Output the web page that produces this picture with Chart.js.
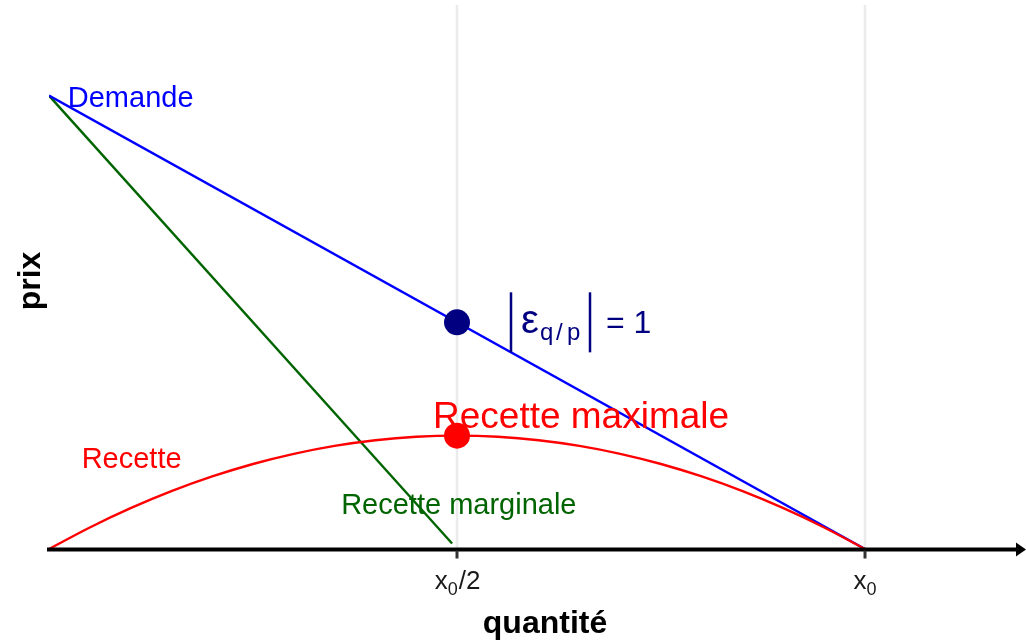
<!DOCTYPE html>
<html>
<head>
<meta charset="utf-8">
<script src="https://cdn.jsdelivr.net/npm/chart.js@4/dist/chart.umd.min.js"></script>
<style>
html,body{margin:0;padding:0;background:#fff;}
#wrap{width:1026px;height:641px;}
</style>
</head>
<body>
<div id="wrap"><canvas id="c" width="1026" height="641"></canvas></div>
<script>
// quantities expressed as fraction of x0, prices as fraction of the demand intercept
const demandeQ = [0, 1];
const demandeP = [1, 0];
const margQ = [0, 0.494];
const margP = [1, 0.012];
const recetteQ = [0, 0.05, 0.1, 0.15, 0.2, 0.25, 0.3, 0.35, 0.4, 0.45, 0.5, 0.55, 0.6, 0.65, 0.7, 0.75, 0.8, 0.85, 0.9, 0.95, 1];
const recetteR = [0, 0.0475, 0.09, 0.1275, 0.16, 0.1875, 0.21, 0.2275, 0.24, 0.2475, 0.25, 0.2475, 0.24, 0.2275, 0.21, 0.1875, 0.16, 0.1275, 0.09, 0.0475, 0];
const elasticPoint = [0.5, 0.5];
const maxPoint = [0.5, 0.25];
const tickValues = [0.5, 1];
const tickMain = ["x", "x"];
const tickSub = ["0", "0"];
const tickRest = ["/2", ""];
const xTitle = "quantité";
const yTitle = "prix";

const FONT = '"Liberation Sans", Arial, Helvetica, sans-serif';
const pts = (xs, ys) => xs.map((x, i) => ({x: x, y: ys[i]}));

const gridPlugin = {
  id: 'gridPlugin',
  beforeDatasetsDraw(chart) {
    const ctx = chart.ctx;
    const xs = chart.scales.x;
    const a = chart.chartArea;
    ctx.save();
    ctx.strokeStyle = '#EBEBEB';
    ctx.lineWidth = 2.5;
    tickValues.forEach(v => {
      const px = xs.getPixelForValue(v);
      ctx.beginPath();
      ctx.moveTo(px, a.top);
      ctx.lineTo(px, a.bottom);
      ctx.stroke();
    });
    ctx.restore();
  }
};

const overlay = {
  id: 'overlay',
  afterDatasetsDraw(chart) {
    const ctx = chart.ctx;
    const xs = chart.scales.x, ys = chart.scales.y;
    const X = v => xs.getPixelForValue(v);
    const Y = v => ys.getPixelForValue(v);
    const y0 = Y(0) + 0.5;
    ctx.save();
    // x axis with arrow
    ctx.strokeStyle = '#000';
    ctx.lineWidth = 3.8;
    ctx.beginPath();
    ctx.moveTo(X(0) - 2, y0);
    ctx.lineTo(chart.width - 8, y0);
    ctx.stroke();
    ctx.fillStyle = '#000';
    ctx.beginPath();
    ctx.moveTo(chart.width, y0);
    ctx.lineTo(chart.width - 10, y0 - 7);
    ctx.lineTo(chart.width - 10, y0 + 7);
    ctx.closePath();
    ctx.fill();
    // ticks + labels
    tickValues.forEach((v, i) => {
      const px = X(v);
      ctx.strokeStyle = '#333';
      ctx.lineWidth = 3;
      ctx.beginPath();
      ctx.moveTo(px, y0 + 1);
      ctx.lineTo(px, y0 + 9);
      ctx.stroke();
      ctx.fillStyle = '#1a1a1a';
      ctx.font = '26px ' + FONT;
      const w1 = ctx.measureText(tickMain[i]).width;
      const w3 = ctx.measureText(tickRest[i]).width;
      ctx.font = '18px ' + FONT;
      const w2 = ctx.measureText(tickSub[i]).width;
      const total = w1 + w2 + w3;
      let sx = px - total / 2;
      const base = y0 + 39;
      ctx.textAlign = 'left';
      ctx.textBaseline = 'alphabetic';
      ctx.font = '26px ' + FONT;
      ctx.fillText(tickMain[i], sx, base);
      ctx.font = '18px ' + FONT;
      ctx.fillText(tickSub[i], sx + w1, base + 6);
      ctx.font = '26px ' + FONT;
      ctx.fillText(tickRest[i], sx + w1 + w2 + 1, base);
    });
    // axis titles
    ctx.fillStyle = '#000';
    ctx.font = 'bold 32px ' + FONT;
    ctx.textAlign = 'center';
    ctx.textBaseline = 'alphabetic';
    ctx.fillText(xTitle, 545, 633);
    ctx.save();
    ctx.translate(40, 281);
    ctx.rotate(-Math.PI / 2);
    ctx.fillText(yTitle, 0, 0);
    ctx.restore();
    // annotations
    ctx.textAlign = 'left';
    ctx.textBaseline = 'alphabetic';
    ctx.font = '29px ' + FONT;
    ctx.fillStyle = '#0000FF';
    ctx.fillText('Demande', X(0.023), Y(1) + 11);
    ctx.fillStyle = '#FF0000';
    ctx.fillText('Recette', X(0.040), Y(0.178));
    ctx.fillStyle = '#006400';
    ctx.fillText('Recette marginale', X(0.358), Y(0.077));
    ctx.fillStyle = '#FF0000';
    ctx.font = '37px ' + FONT;
    ctx.fillText('Recette maximale', X(0.4706), Y(0.268));
    // elasticity label
    const ex = X(elasticPoint[0]), ey = Y(elasticPoint[1]);
    ctx.strokeStyle = '#000080';
    ctx.fillStyle = '#000080';
    ctx.lineWidth = 2.5;
    [54, 133].forEach(dx => {
      ctx.beginPath();
      ctx.moveTo(ex + dx, ey - 30);
      ctx.lineTo(ex + dx, ey + 30);
      ctx.stroke();
    });
    ctx.font = '40px ' + FONT;
    ctx.fillText('ε', ex + 64, ey + 11);
    ctx.font = '24px ' + FONT;
    ctx.fillText('q', ex + 83, ey + 18);
    ctx.fillText('/', ex + 99, ey + 18);
    ctx.fillText('p', ex + 110, ey + 18);
    ctx.font = '32px ' + FONT;
    ctx.fillText('= 1', ex + 149, ey + 11);
    ctx.restore();
  }
};

new Chart(document.getElementById('c'), {
  type: 'line',
  data: {
    datasets: [
      {label: 'Recette', data: pts(recetteQ, recetteR), borderColor: '#FF0000', borderWidth: 2.4, pointRadius: 0, cubicInterpolationMode: 'monotone', order: 3},
      {label: 'Demande', data: pts(demandeQ, demandeP), borderColor: '#0000FF', borderWidth: 2.4, pointRadius: 0, order: 4},
      {label: 'Recette marginale', data: pts(margQ, margP), borderColor: '#006400', borderWidth: 2.4, pointRadius: 0, order: 5},
      {label: 'Élasticité unitaire', data: [{x: elasticPoint[0], y: elasticPoint[1]}], showLine: false, pointRadius: 13, pointBackgroundColor: '#000080', pointBorderWidth: 0, borderColor: '#000080', order: 1},
      {label: 'Recette maximale', data: [{x: maxPoint[0], y: maxPoint[1]}], showLine: false, pointRadius: 13, pointBackgroundColor: '#FF0000', pointBorderWidth: 0, borderColor: '#FF0000', order: 2}
    ]
  },
  options: {
    responsive: false,
    animation: false,
    layout: {autoPadding: false, padding: {left: 49, right: 0, top: 5, bottom: 92}},
    plugins: {legend: {display: false}, tooltip: {enabled: false}},
    scales: {
      x: {type: 'linear', min: 0, max: 1.1973, display: false},
      y: {type: 'linear', min: 0, max: 1.2, display: false}
    }
  },
  plugins: [gridPlugin, overlay]
});
</script>
</body>
</html>
